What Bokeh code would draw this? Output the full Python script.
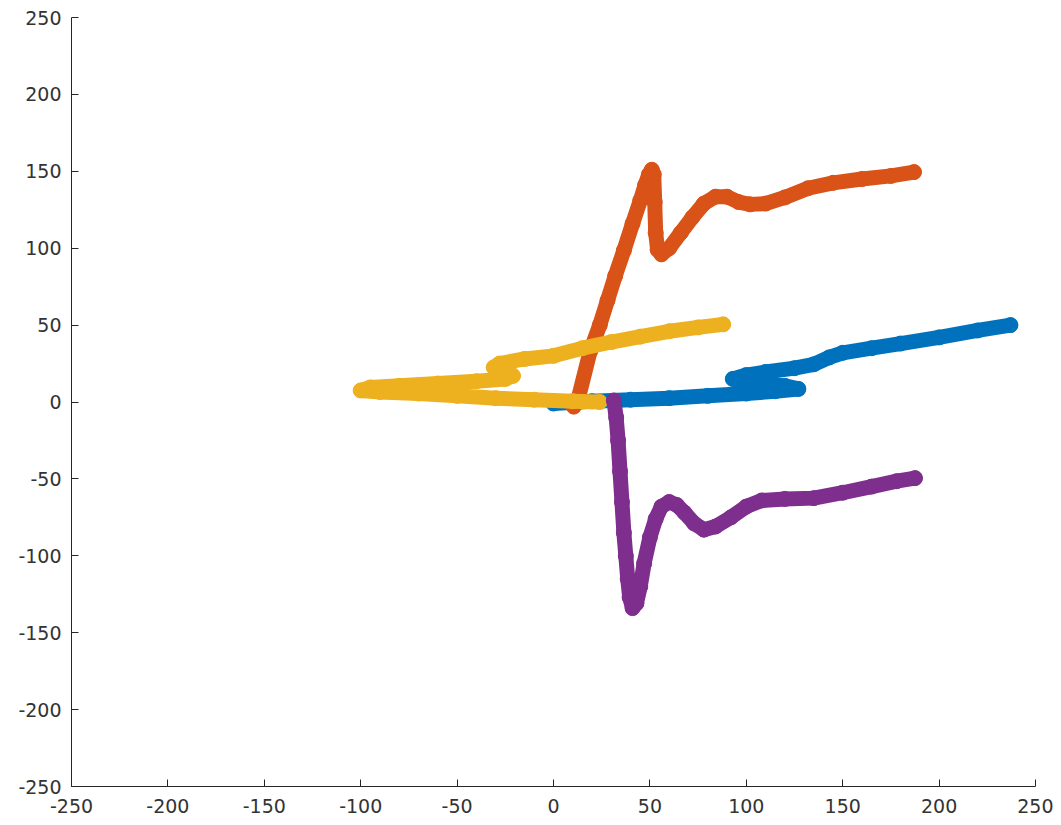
from bokeh.plotting import figure
from bokeh.models import Range1d, FixedTicker, CustomJSTickFormatter
from bokeh.embed import file_html
from bokeh.resources import INLINE

# Series
blue_x = [0, 20, 40, 60, 80, 100, 115, 127, 120, 105, 93, 100, 110, 125, 135, 143, 150, 165, 180, 200, 220, 237]
blue_y = [-1, 0.5, 1.5, 2.5, 4, 5.5, 7, 8.5, 10.5, 12.5, 15, 17.5, 19.5, 22, 24.5, 29, 32, 35, 38, 42, 46.5, 50]

orange_x = [10.5, 13, 19, 24, 28, 32, 36.5, 41, 45, 47.5, 49.5, 51, 52, 52.5, 53, 54, 56, 60, 66, 72, 78, 84, 90, 96,
            102, 110, 120, 132, 145, 160, 175, 187]
orange_y = [-3, 3, 33, 50, 66, 82, 98.5, 116, 131, 141, 148, 151, 148, 130, 110, 99, 96, 100, 110, 120, 129, 133.5,
            133.5, 130, 128.5, 129, 133, 139, 142.5, 145, 147, 149.5]

yellow_x = [24, 10, -10, -30, -50, -70, -90, -100, -95, -80, -60, -40, -25, -21, -23, -29, -31, -28, -15, 0, 15, 30,
            45, 60, 75, 88]
yellow_y = [0, 0.5, 1.5, 2.5, 4, 5.5, 6.5, 7.5, 9.5, 10.5, 12, 13.5, 15, 17, 19.5, 21, 22.5, 25, 28, 30, 35, 39,
            42.5, 46, 48.5, 50.5]

purple_x = [31.3, 32.5, 33.5, 34.5, 35.5, 36.5, 37.5, 38.5, 39.5, 41, 43, 45, 47, 50, 53, 56, 60, 64, 68, 73, 78,
            84, 92, 100, 108, 120, 135, 150, 165, 178, 187.5]
purple_y = [1, -10, -25, -45, -65, -85, -100, -115, -127, -134, -131, -120, -105, -88, -76, -68, -65, -67, -72, -79,
            -83, -81, -75, -68, -64, -63, -62.5, -59, -55, -51.5, -49.5]

ticks = [-250, -200, -150, -100, -50, 0, 50, 100, 150, 200, 250]

series = [
    (blue_x, blue_y, "#0072BD"),
    (orange_x, orange_y, "#D95319"),
    (yellow_x, yellow_y, "#EDB120"),
    (purple_x, purple_y, "#7E2F8E"),
]

p = figure(width=1053, height=817, x_range=Range1d(-250, 250), y_range=Range1d(-250, 250),
           output_backend="svg", toolbar_location=None,
           min_border_left=71, min_border_right=18, min_border_top=17, min_border_bottom=31)
p.grid.visible = False
p.outline_line_color = None
p.background_fill_color = "white"
p.border_fill_color = "white"

for ax in (p.xaxis[0], p.yaxis[0]):
    ax.ticker = FixedTicker(ticks=ticks)
    ax.formatter = CustomJSTickFormatter(code="return tick.toString();")
    ax.axis_line_color = "#262626"
    ax.axis_line_width = 1
    ax.major_tick_line_color = "#262626"
    ax.major_tick_in = 7
    ax.major_tick_out = 0
    ax.minor_tick_line_color = None
    ax.major_label_text_font = "DejaVu Sans"
    ax.major_label_text_font_size = "19px"
    ax.major_label_text_color = "#333333"
p.xaxis[0].major_label_standoff = 12
p.yaxis[0].major_label_standoff = 10

for xs, ys, c in series:
    p.line(xs, ys, line_color=c, line_width=15, line_cap="round", line_join="round")
    p.scatter(xs, ys, marker="circle", size=15, fill_color=c, line_color=c, line_width=1)

open("out.html", "w").write(file_html(p, INLINE))
